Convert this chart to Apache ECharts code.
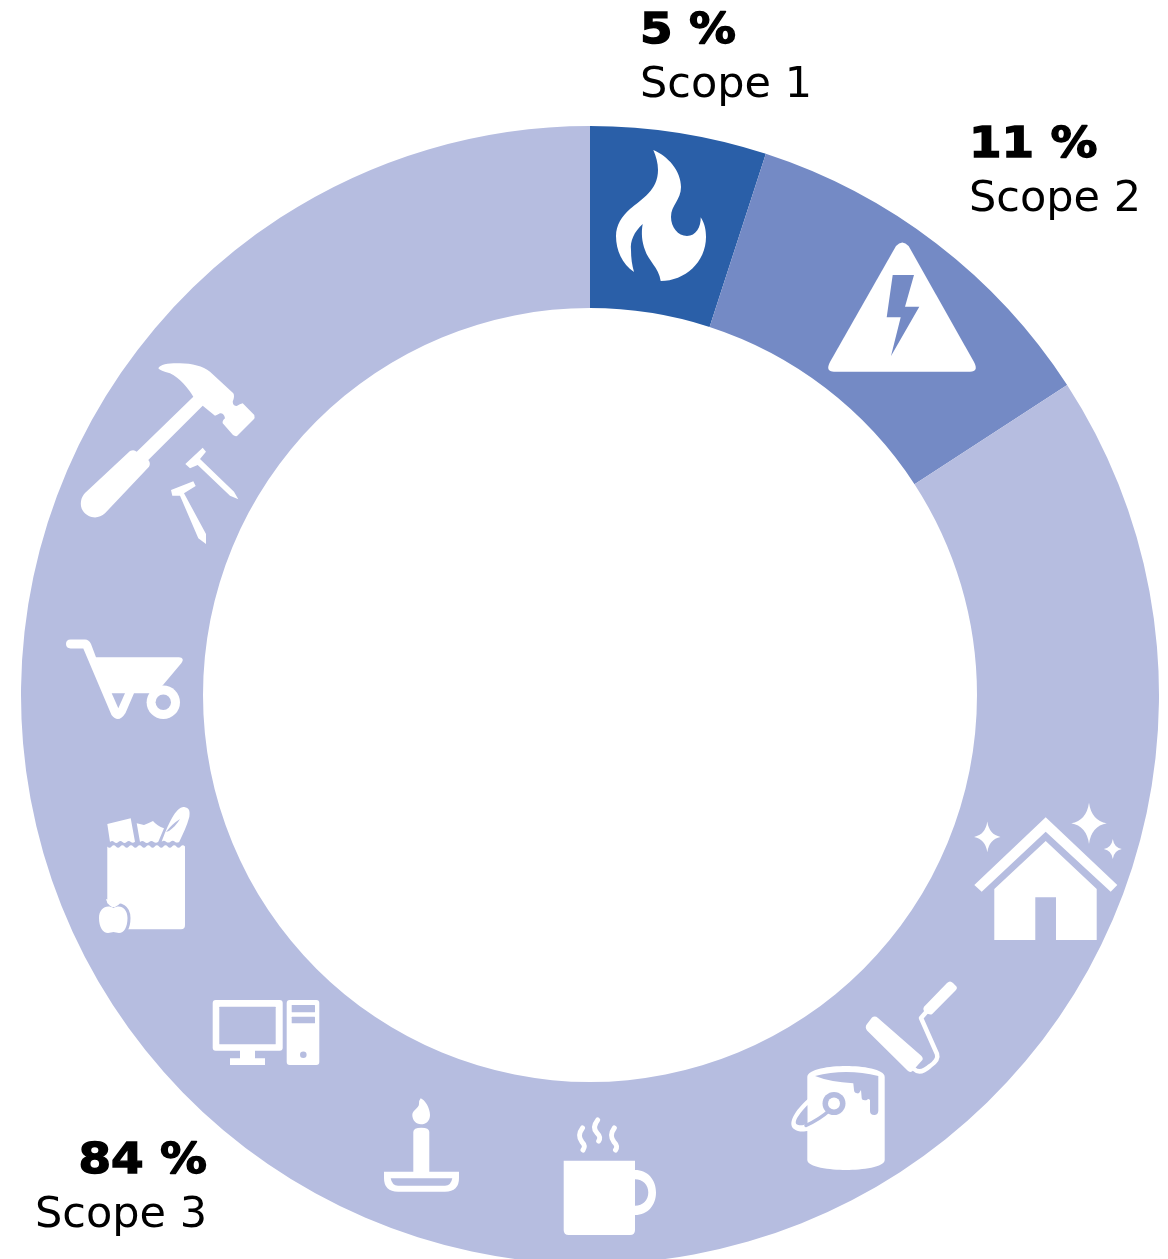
<!DOCTYPE html>
<html>
<head>
<meta charset="utf-8">
<style>
html,body{margin:0;padding:0;background:#fff;overflow:hidden}
#main{width:1168px;height:1259px}
</style>
<script src="https://cdn.jsdelivr.net/npm/echarts@6/dist/echarts.min.js"></script>
</head>
<body>
<div id="main"></div>
<script>
var scopeNames = ['Scope 1', 'Scope 2', 'Scope 3'];
var scopeLabels = ['5 %', '11 %', '84 %'];
// the arcs
var scopeValues = [5, 10.83, 84.17];
var scopeColors = ['#2a5fa8', '#748ac5', '#b6bde0'];

var WHITE = '#fff';
var mid = scopeColors[1], light = scopeColors[2];

// wavy edge for the grocery bag
function wave(x0, x1, y, step, amp) {
    var s = '', up = true;
    var n = Math.round(Math.abs(x1 - x0) / Math.abs(step));
    var d = (x1 - x0) / n;
    for (var i = 0; i < n; i++) {
        var x = x0 + d * i;
        s += 'Q' + (x + d / 2) + ' ' + (y + (up ? amp : -amp)) + ' ' + (x + d) + ' ' + y;
        up = !up;
    }
    return s;
}
function sparkle(cx, cy, rx, ry) {
    var kx = rx * 0.14, ky = ry * 0.14;
    return 'M' + cx + ' ' + (cy - ry) +
        'Q' + (cx + kx) + ' ' + (cy - ky) + ' ' + (cx + rx) + ' ' + cy +
        'Q' + (cx + kx) + ' ' + (cy + ky) + ' ' + cx + ' ' + (cy + ry) +
        'Q' + (cx - kx) + ' ' + (cy + ky) + ' ' + (cx - rx) + ' ' + cy +
        'Q' + (cx - kx) + ' ' + (cy - ky) + ' ' + cx + ' ' + (cy - ry) + 'Z';
}
function rrect(x0, y0, x1, y1, r) {
    return 'M' + (x0 + r) + ' ' + y0 + 'L' + (x1 - r) + ' ' + y0 + 'Q' + x1 + ' ' + y0 + ' ' + x1 + ' ' + (y0 + r) +
        'L' + x1 + ' ' + (y1 - r) + 'Q' + x1 + ' ' + y1 + ' ' + (x1 - r) + ' ' + y1 +
        'L' + (x0 + r) + ' ' + y1 + 'Q' + x0 + ' ' + y1 + ' ' + x0 + ' ' + (y1 - r) +
        'L' + x0 + ' ' + (y0 + r) + 'Q' + x0 + ' ' + y0 + ' ' + (x0 + r) + ' ' + y0 + 'Z';
}
function circle(cx, cy, r) {
    return 'M' + (cx - r) + ' ' + cy + 'A' + r + ' ' + r + ' 0 1 1 ' + (cx + r) + ' ' + cy +
        'A' + r + ' ' + r + ' 0 1 1 ' + (cx - r) + ' ' + cy + 'Z';
}
// the graphic component has no plain path type, so each icon piece gets its own shape class
var shapeCount = 0;
function regShape(d) {
    var name = 'iconPiece' + (shapeCount++);
    echarts.graphic.registerShape(name, echarts.graphic.extendPath(d, {}));
    return name;
}
function fillPath(d, color) {
    return {type: regShape(d), silent: true, z: 10, style: {fill: color || WHITE}};
}
function strokePath(d, color, width) {
    return {type: regShape(d), silent: true, z: 10,
        style: {fill: null, stroke: color || WHITE, lineWidth: width, lineCap: 'round', lineJoin: 'round'}};
}

var appleShape = 'M113.5 908C107 904 99 908 99 918C99 927 103 933 108 933C110 933 112 932 113.5 932C115 932 117 933 119 933C124 933 127.5 927 127.5 918C127.5 908 120 904 113.5 908Z';

var icons = [
    // flame
    fillPath('M653.3 150C668 156 681 171 681 187C681 200 671 205 671 217C671 227 678 236 687 236C696 236 701 227 700.7 217.3C705 224 706 231 706 237C706 262 685 281 660.7 281C659 268 648 260 645 250C642 242 641 233 642.7 224C634 232 630 241 631 250C631 258 632 265 634 272C622 264 616 250 616 236C616 225 622 216 630 209C642 199 658 190 658 170C658 163 656 156 653.3 150Z'),
    // warning triangle
    fillPath('M896 246Q902.3 239 908.6 246L974 362Q979 371.7 970 371.7L834 371.7Q825 371.7 830 362Z'),
    fillPath('M892.7 275L914 275L905 306.7L919.3 306.7L891 356L900.7 317.3L886.7 317.3Z', mid),
    // hammer
    fillPath('M158.3 368.3C160 364 170 363 180 363.3C192 363.5 203 366 210 371.7L233.3 393.3Q235 396 232.7 401.7Q233 406 236.7 406Q240 404 242.7 403.3L254.3 415Q255 418 254 419L237 436Q235 436.5 233 435L222.7 423.3Q222 421 225 418.3Q224 413 220 413.3Q217 415 215 415.7L202.7 405.7L148.3 460Q151 463 149 466.7L105 513.3C98 520 88 518 83 511C79 505 81 497 85 493L130 451Q134 449 136.7 451.7L193.3 396.7C188 388 180 378 170 373.3Q160 371 158.3 368.3Z'),
    fillPath('M202.7 447.7L206 451.7L200 459L234 491.7L238.3 499.3L230 495.7L197.7 465L190 468.3L185.3 464Z'),
    fillPath('M171 490L193.3 481.3L195.7 486L184 493.3L206 534L206 544L198.3 538.3L180 495.7L172.3 495.7Z'),
    // wheelbarrow
    fillPath('M70.5 639.5L85 639.5Q89 639.5 91 644L96 657.3L179 657.3Q185 658 181.5 663L163 685L155 693.3L134 693.3L125.5 713Q118.5 724 111.5 715L83.3 648.5L70.5 648.5Q66 648 66 644Q66 639.5 70.5 639.5Z'),
    fillPath('M111.7 693.3L125 693.3L118.3 708.3Z', light),
    fillPath(circle(163.3, 702.3, 16.7)),
    fillPath(circle(163.3, 702.3, 7.7), light),
    // grocery bag
    fillPath('M107.3 846.5' + wave(107.3, 185, 846.5, 4.3, 2.4) + 'L185 925Q185 929.3 181 929.3L107.3 929.3Z'),
    fillPath('M107.3 824L130.7 818.3L135 841.7' + wave(135, 110, 842, 4.2, 1.8) + 'Z'),
    fillPath('M136.7 823.3L144 825Q149 823 153 821Q157 826 164 828.3L158.3 841.7' + wave(158.3, 140, 842, 4.5, 1.8) + 'Z'),
    fillPath('M161.7 841.7C164 835 168 825 172 818C176 811 181 806 185 807.3C190 808 190 813 189.3 817C187 826 183 834 179.3 841.7' + wave(179.3, 161.7, 841.7, 4.4, 1.8) + 'Z'),
    fillPath('M166 832Q172 824 180 819Q176 826 169 831Z', light),
    strokePath(appleShape, light, 6),
    fillPath(appleShape),
    fillPath('M112 907Q107 904 106 899Q111 900 113.5 904Q115 899 122 897Q122 904 115 907Z', WHITE),
    // computer
    fillPath(rrect(212.7, 1000, 282.7, 1050.7, 3)),
    fillPath(rrect(219.3, 1006.7, 275.7, 1044.3, 0.5), light),
    fillPath('M240 1050L255 1050L255 1058.3L265 1058.3L265 1065L230 1065L230 1058.3L240 1058.3Z'),
    fillPath(rrect(286.7, 1000, 319.3, 1065, 3)),
    fillPath(rrect(291.7, 1005, 315, 1012.3, 0.5), light),
    fillPath(rrect(291.7, 1016.7, 315, 1023.3, 0.5), light),
    fillPath(circle(303.3, 1054.7, 3.3), light),
    // candle
    fillPath('M420.7 1098.3C425 1100 430 1108 430 1115C430 1121 426 1124.3 421 1124.3C416 1124.3 412.3 1120 412.3 1115C412.3 1110 419 1108 419 1104Q419 1100 420.7 1098.3Z'),
    fillPath('M413.3 1132Q413.3 1127.7 421.3 1127.7Q429.3 1127.7 429.3 1132L429.3 1172L413.3 1172Z'),
    fillPath('M384 1171.7L459 1171.7L459 1178Q459 1191.7 445 1191.7L398 1191.7Q384 1191.7 384 1178Z'),
    fillPath('M390.7 1178.3L452.3 1178.3Q451 1185.7 445 1185.7L398 1185.7Q392 1185.7 390.7 1178.3Z', light),
    // mug
    fillPath('M563.7 1160.7L635 1160.7L635 1230Q635 1235 630 1235L568.7 1235Q563.7 1235 563.7 1230Z'),
    fillPath('M635 1170C648 1170 656 1180 656 1192.5C656 1205 648 1215 635 1215L635 1205.7C643 1205.7 648.3 1200 648.3 1192.5C648.3 1185 643 1179.3 635 1179.3Z'),
    strokePath('M582.5 1128C578 1134 579 1138 582 1142C585 1145 585 1147 583 1150', WHITE, 5),
    strokePath('M597.7 1120C593 1126 594 1130 597 1133C600 1136 600.5 1138 598.7 1141', WHITE, 5),
    strokePath('M614.3 1128C610 1134 611 1138 614 1142C617 1145 617.5 1147 615.5 1150', WHITE, 5),
    // paint can
    fillPath('M807.3 1077C807.3 1069 830 1066 846 1066C862 1066 884.7 1069 884.7 1077L884.7 1160C884.7 1167 862 1170 846 1170C830 1170 807.3 1167 807.3 1160Z'),
    fillPath('M815 1076Q846 1068 878.3 1076L878.3 1111Q878 1115 874.3 1115Q870 1115 870 1111L870 1100Q868 1098 867 1100Q862 1101 861.7 1098L861 1090Q859 1094 857.3 1093.3Q854 1093 854 1090L853.3 1083.3Q830 1082 815 1076Z', light),
    fillPath('M808 1099C795 1110 787 1124 794 1129C799 1133 806 1131 808 1131Z'),
    fillPath('M807.5 1105C800 1113 793 1122 797 1124.5C799 1126 805 1125 807.5 1124Z', light),
    strokePath('M806 1125.5Q820 1119 830 1110', light, 3.5),
    fillPath(circle(834, 1103.5, 11.5), light),
    fillPath(circle(834, 1103.5, 6)),
    // roller
    fillPath('M872 1017.5Q875 1015.5 878 1018L921.5 1056Q924 1059 921.5 1061L912.5 1071Q910 1073 907.5 1070.5L867 1030.5Q864.5 1027 867 1024Z'),
    strokePath('M914 1069Q920 1075 930 1066Q939 1060 937 1054L921 1018L928 1010', WHITE, 4.5),
    fillPath('M924 1006.7L947 983Q950 980 953 983L956 986Q958 988 955.5 990.5L932 1014.3Q929 1015 926 1013Q922 1010 924 1006.7Z'),
    // house
    fillPath('M1045.7 817.3L1117.3 885L1110.7 891.7L1045.7 831.7L981.7 891.7L974.3 885Z'),
    fillPath('M1045.7 841L1096.7 889L1096.7 940L1056 940L1056 897.3L1035.3 897.3L1035.3 940L994.3 940L994.3 889Z'),
    fillPath(sparkle(987.3, 836.9, 13.2, 15.3)),
    fillPath(sparkle(1089, 823.3, 17.8, 20.6)),
    fillPath(sparkle(1112.8, 849, 9, 10))
];

// label anchors, y is the top of the percent line
var labelX = [640, 969, 207];
var labelAlign = ['left', 'left', 'right'];
var labelY = [10, 124, 1140];
var labels = [];
scopeNames.forEach(function (name, i) {
    labels.push({type: 'text', silent: true, z: 10, x: labelX[i], y: labelY[i], scaleX: 1.09, style: {
        text: scopeLabels[i], fill: '#000', stroke: '#000', lineWidth: 1.4, align: labelAlign[i], verticalAlign: 'top',
        font: 'bold 43px "DejaVu Sans"'
    }});
    labels.push({type: 'text', silent: true, z: 10, x: labelX[i], y: labelY[i] + 54.5, style: {
        text: name, fill: '#000', align: labelAlign[i], verticalAlign: 'top',
        font: '43px "DejaVu Sans"'
    }});
});

var myChart = echarts.init(document.getElementById('main'));
var option = {
    animation: false,
    color: scopeColors,
    series: [{
        type: 'pie',
        center: [590, 695],
        radius: [387, 569],
        startAngle: 90,
        clockwise: true,
        silent: true,
        label: {show: false},
        labelLine: {show: false},
        itemStyle: {borderWidth: 0},
        data: scopeNames.map(function (name, i) {
            return {name: name, value: scopeValues[i]};
        })
    }],
    graphic: {elements: icons.concat(labels)}
};
myChart.setOption(option);
</script>
</body>
</html>
